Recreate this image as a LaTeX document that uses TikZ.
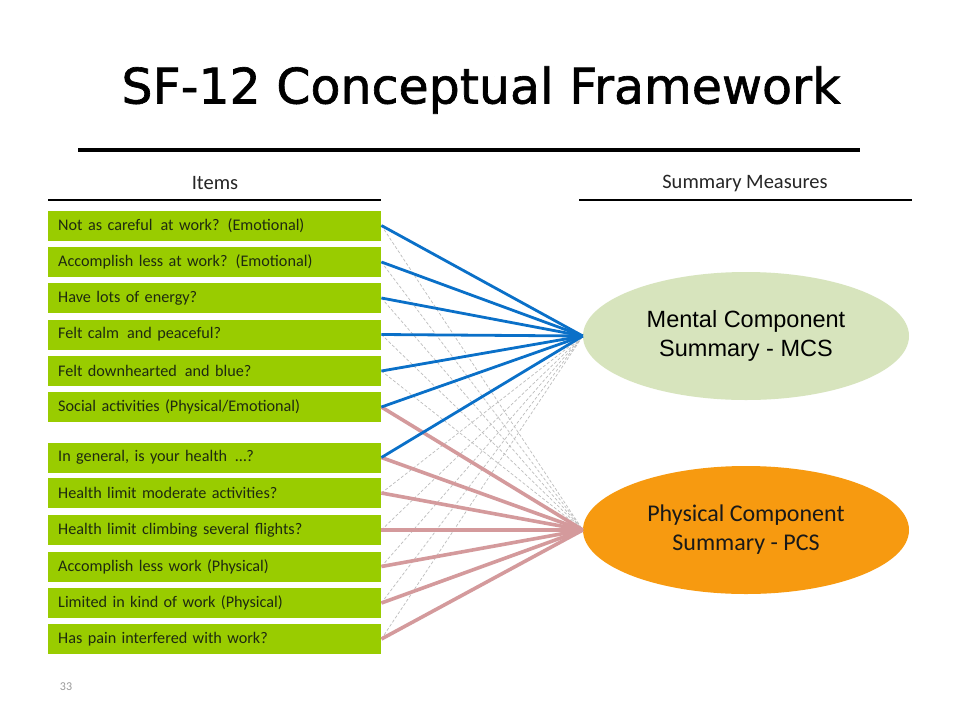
\documentclass[tikz,border=0pt]{standalone}
\usepackage{fontspec}
\setmainfont{Carlito}
\newfontfamily\arialf{Liberation Sans}
\newfontfamily\titlef{DejaVu Sans}[FakeBold=1.3]
\usetikzlibrary{shapes.geometric}
\definecolor{itemgreen}{HTML}{99CC00}
\definecolor{itemtext}{HTML}{1E2A10}
\definecolor{mcsfill}{HTML}{D7E4BD}
\definecolor{pcsfill}{HTML}{F79A10}
\definecolor{bluel}{HTML}{0A70C8}
\definecolor{redl}{HTML}{D49A9C}
\definecolor{dashg}{HTML}{BDBDBD}
\begin{document}
\begin{tikzpicture}[x=1pt,y=-1pt,
  item/.style={fill=itemgreen, anchor=west, minimum width=333pt, minimum height=30pt,
    inner xsep=10pt, inner ysep=0pt, text width=313pt, align=left, text=itemtext,
    font=\fontsize{16.2}{18}\selectfont},
  summ/.style={ellipse, minimum width=326pt, minimum height=128pt, inner sep=0pt, align=center},
  hdr/.style={text=black!85, font=\fontsize{20.5}{22}\selectfont},
  bluecon/.style={draw=bluel, line width=2.8pt},
  redcon/.style={draw=redl, line width=3.6pt},
  crosscon/.style={draw=dashg, line width=0.7pt, dash pattern=on 3pt off 2pt},
  rule/.style={line width=2pt}]
\fill[white] (0,0) rectangle (960,720);
\useasboundingbox (0,0) rectangle (960,720);
% title
\node (title) at (481,90) {\titlef\fontsize{49}{56}\selectfont SF-12 Conceptual Framework};
\draw[line width=4pt] (78,150) -- (860,150);
% headers
\node[hdr] (items) at (215,183) {Items};
\draw[rule] (48,200) -- (381,200);
\node[hdr] (sm) at (745,183) {Summary Measures};
\draw[rule] (579,200) -- (912,200);
% items
\foreach \i/\y/\t in {
  1/225.5/{Not as careful\, at work? (Emotional)},
  2/262/{Accomplish less at work? (Emotional)},
  3/298/{Have lots of energy?},
  4/334.5/{Felt calm\, and peaceful?},
  5/371/{Felt downhearted\, and blue?},
  6/407/{Social activities (Physical/Emotional)},
  7/457.5/{In general, is your health \,…?},
  8/493/{Health limit moderate activities?},
  9/530/{Health limit climbing several flights?},
  10/566.5/{Accomplish less work (Physical)},
  11/603/{Limited in kind of work (Physical)},
  12/639/{Has pain interfered with work?}}
  \node[item] (i\i) at (48,\y) {\t};
% summary ellipses
\node[summ, fill=mcsfill, font=\arialf\fontsize{23.5}{29}\selectfont] (mcs) at (746,336)
  {Mental Component\\Summary - MCS};
\node[summ, fill=pcsfill, text=black!90, font=\fontsize{24}{29}\selectfont] (pcs) at (746,530)
  {Physical Component\\Summary - PCS};
% connectors
\foreach \i in {1,...,5} \draw[crosscon] (i\i.east) -- (pcs.west);
\foreach \i in {8,...,12} \draw[crosscon] (i\i.east) -- (mcs.west);
\foreach \i in {6,...,12} \draw[redcon] (i\i.east) -- (pcs.west);
\foreach \i in {1,...,7} \draw[bluecon] (i\i.east) -- (mcs.west);
% page number
\node[text=black!40, font=\fontsize{12}{14}\selectfont] (pg) at (66,687) {33};
\end{tikzpicture}
\end{document}
